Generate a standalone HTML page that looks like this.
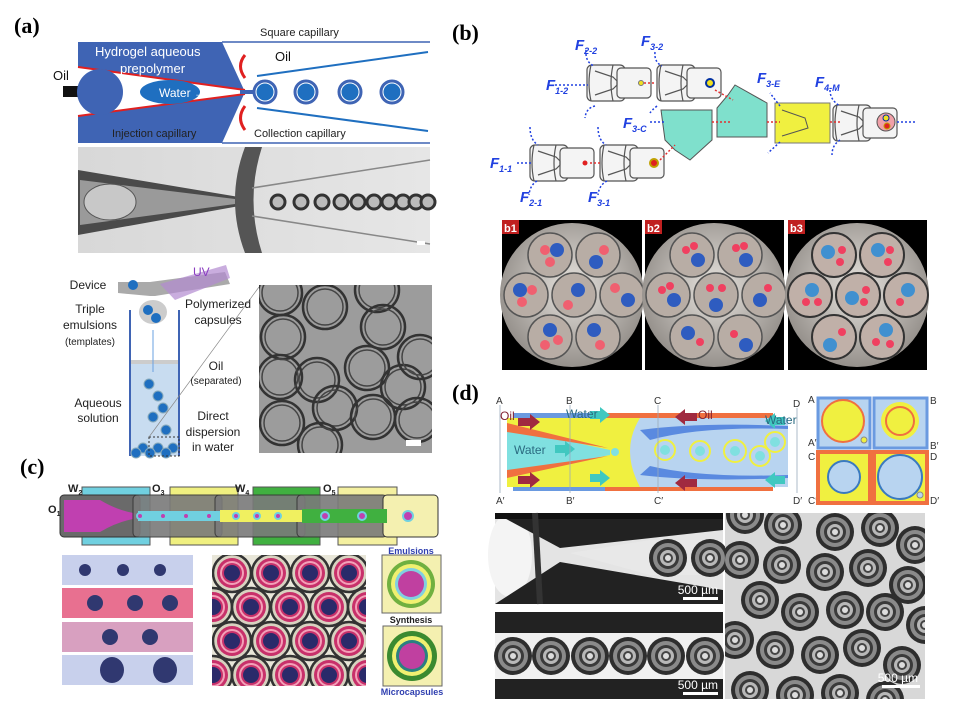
<!DOCTYPE html>
<html><head><meta charset="utf-8"><style>
body{margin:0;background:#fff}
svg{display:block}
text{font-family:"Liberation Sans",sans-serif}
.lab{font-family:"Liberation Serif",serif;font-weight:bold;font-size:22px}
</style></head><body>
<svg width="955" height="713" viewBox="0 0 955 713" xmlns="http://www.w3.org/2000/svg">
<defs>
<radialGradient id="bg1" cx="50%" cy="45%" r="60%"><stop offset="0" stop-color="#e8e4df"/><stop offset="1" stop-color="#8a8580"/></radialGradient>
<linearGradient id="ms" x1="0" x2="1"><stop offset="0" stop-color="#d8d8d8"/><stop offset="1" stop-color="#e6e6e6"/></linearGradient>
<g id="unit" fill="none" stroke="#555" stroke-width="1.2">
<rect x="0" y="2" width="38" height="36" rx="5" fill="#f4f4f4"/>
<rect x="30" y="5" width="34" height="30" rx="4" fill="#f4f4f4"/>
<path d="M8 8 L26 14 L30 18 L30 22 L26 26 L8 32"/>
<path d="M4 2 Q0 20 4 38"/><path d="M26 2 Q22 20 26 38"/>
</g>
<g id="cap1"><circle r="22" fill="none" stroke="#333" stroke-width="2.5"/><circle r="18" fill="none" stroke="#444" stroke-width="1.5"/></g>
<g id="cc"><circle r="19" fill="#d8d2c0" stroke="#333" stroke-width="2.5"/><circle r="15" fill="#c8306a"/><circle r="12" fill="#f3a0b8"/><circle r="10" fill="#c8306a"/><circle r="8" fill="#2a2a6a"/></g>
<g id="dc"><circle r="19" fill="#2e2e2e"/><circle r="15" fill="#8a8a8a"/><circle r="11" fill="#3a3a3a"/><circle r="8" fill="#b8b8b8"/><circle r="5" fill="#444"/><circle r="3" fill="#ddd"/></g>
<clipPath id="c1"><rect x="259" y="285" width="173" height="168"/></clipPath>
<clipPath id="c2"><rect x="212" y="555" width="154" height="131"/></clipPath>
<clipPath id="c3"><rect x="725" y="513" width="200" height="186"/></clipPath>
<clipPath id="cb1"><circle cx="572" cy="295" r="72"/></clipPath>
<clipPath id="cb2"><circle cx="714" cy="295" r="72"/></clipPath>
<clipPath id="cb3"><circle cx="857" cy="295" r="72"/></clipPath>
</defs>

<!-- (a) -->
<text class="lab" x="14" y="33">(a)</text>
<polygon points="78,42 222,42 245,92 222,143 78,143" fill="#3f64b4"/>
<line x1="222" y1="42" x2="430" y2="42" stroke="#3f64b4" stroke-width="1.5"/>
<line x1="222" y1="143" x2="430" y2="143" stroke="#3f64b4" stroke-width="1.5"/>
<polygon points="78,67 245,90 245,94 78,116" fill="#fff"/>
<line x1="78" y1="67" x2="245" y2="90" stroke="#e02020" stroke-width="2"/>
<line x1="78" y1="116" x2="245" y2="94" stroke="#e02020" stroke-width="2"/>
<rect x="63" y="86" width="16" height="11" fill="#111"/>
<circle cx="100" cy="92" r="23" fill="#3f64b4"/>
<ellipse cx="170" cy="92" rx="30" ry="12" fill="#1f6fc0"/>
<rect x="240" y="90" width="16" height="4" fill="#3f64b4"/>
<line x1="257" y1="76" x2="428" y2="52" stroke="#1f6fc0" stroke-width="2"/>
<line x1="257" y1="108" x2="428" y2="131" stroke="#1f6fc0" stroke-width="2"/>
<g fill="#1f6fc0" stroke="#3f64b4" stroke-width="3"><circle cx="265" cy="92" r="11"/><circle cx="306" cy="92" r="11"/><circle cx="350" cy="92" r="11"/><circle cx="392" cy="92" r="11"/></g>
<g fill="none" stroke="#fff" stroke-width="1"><circle cx="265" cy="92" r="9"/><circle cx="306" cy="92" r="9"/><circle cx="350" cy="92" r="9"/><circle cx="392" cy="92" r="9"/></g>
<path d="M245 55 Q236 66 245 78" fill="none" stroke="#e02020" stroke-width="3"/>
<path d="M245 130 Q236 118 245 106" fill="none" stroke="#e02020" stroke-width="3"/>
<text x="95" y="56" fill="#fff" font-size="13">Hydrogel  aqueous</text>
<text x="120" y="73" fill="#fff" font-size="13">prepolymer</text>
<text x="159" y="97" fill="#fff" font-size="12">Water →</text>
<text x="112" y="137" fill="#222" font-size="11">Injection capillary</text>
<text x="260" y="36" fill="#222" font-size="11">Square capillary</text>
<text x="275" y="61" fill="#111" font-size="13">Oil</text>
<text x="254" y="137" fill="#222" font-size="11">Collection capillary</text>
<text x="53" y="80" fill="#111" font-size="13">Oil</text>
<!-- microscope a -->
<rect x="78" y="147" width="352" height="106" fill="url(#ms)"/>
<path d="M78 170 L245 198 L245 205 L78 235 Z" fill="#4a4a4a"/>
<path d="M80 180 L235 199 L235 204 L80 225 Z" fill="#9a9a9a"/>
<ellipse cx="110" cy="202" rx="26" ry="18" fill="#c8c8c8" stroke="#555"/>
<path d="M245 147 Q225 200 245 253 L262 253 Q245 200 262 147 Z" fill="#555"/>
<path d="M252 188 L430 160 M252 216 L430 244" stroke="#888" stroke-width="1.5"/>
<g fill="#bbb" stroke="#333" stroke-width="3"><circle cx="278" cy="202" r="7"/><circle cx="301" cy="202" r="7"/><circle cx="322" cy="202" r="7"/><circle cx="341" cy="202" r="7"/><circle cx="358" cy="202" r="7"/><circle cx="374" cy="202" r="7"/><circle cx="389" cy="202" r="7"/><circle cx="403" cy="202" r="7"/><circle cx="416" cy="202" r="7"/><circle cx="428" cy="202" r="7"/></g>
<rect x="417" y="241" width="8" height="4" fill="#fff"/>
<!-- a bottom -->
<polygon points="118,282 150,282 225,272 230,284 155,296 150,296 118,293" fill="#aaa"/>
<polygon points="160,284 226,265 230,278 175,300" fill="#b28ad0" opacity="0.7"/>
<text x="193" y="276" fill="#8a3cc0" font-size="12">UV</text>
<circle cx="133" cy="285" r="5" fill="#1f6fc0"/>
<ellipse cx="153" cy="312" rx="14" ry="12" fill="#ccc"/>
<circle cx="148" cy="310" r="5" fill="#1f6fc0"/><circle cx="156" cy="318" r="5" fill="#1f6fc0"/>
<rect x="130" y="361" width="49" height="95" fill="#c8dcf0"/>
<rect x="130" y="360" width="49" height="4" fill="#ccc"/>
<line x1="130" y1="310" x2="130" y2="456" stroke="#3f64b4" stroke-width="2"/>
<line x1="179" y1="310" x2="179" y2="456" stroke="#3f64b4" stroke-width="2"/>
<line x1="153" y1="330" x2="153" y2="372" stroke="#6aa0e0" stroke-width="1"/>
<g fill="#1f6fc0" stroke="#8ab" stroke-width="1"><circle cx="149" cy="384" r="5"/><circle cx="158" cy="396" r="5"/><circle cx="163" cy="408" r="5"/><circle cx="153" cy="417" r="5"/><circle cx="166" cy="430" r="5"/><circle cx="143" cy="448" r="5"/><circle cx="158" cy="448" r="5"/><circle cx="173" cy="448" r="5"/><circle cx="136" cy="453" r="5"/><circle cx="150" cy="453" r="5"/><circle cx="166" cy="453" r="5"/></g>
<rect x="149" y="437" width="30" height="19" fill="none" stroke="#333" stroke-dasharray="2,2"/>
<line x1="149" y1="437" x2="259" y2="287" stroke="#888" stroke-width="0.7"/>
<g font-size="12" fill="#222" text-anchor="middle">
<text x="88" y="289">Device</text><text x="90" y="313">Triple</text><text x="90" y="329">emulsions</text><text x="90" y="345" font-size="10">(templates)</text>
<text x="218" y="308">Polymerized</text><text x="218" y="324">capsules</text>
<text x="216" y="370">Oil</text><text x="216" y="384" font-size="10">(separated)</text>
<text x="98" y="407">Aqueous</text><text x="98" y="422">solution</text>
<text x="213" y="420">Direct</text><text x="213" y="436">dispersion</text><text x="213" y="451">in water</text>
</g>
<rect x="259" y="285" width="173" height="168" fill="#9c9c9c"/>
<g clip-path="url(#c1)">
<use href="#cap1" x="280" y="293"/><use href="#cap1" x="325" y="307"/><use href="#cap1" x="377" y="290"/><use href="#cap1" x="383" y="327"/><use href="#cap1" x="283" y="337"/><use href="#cap1" x="367" y="368"/><use href="#cap1" x="317" y="380"/><use href="#cap1" x="280" y="377"/><use href="#cap1" x="403" y="387"/><use href="#cap1" x="335" y="408"/><use href="#cap1" x="373" y="417"/><use href="#cap1" x="282" y="423"/><use href="#cap1" x="420" y="357"/><use href="#cap1" x="417" y="420"/><use href="#cap1" x="320" y="445"/>
</g>
<rect x="406" y="440" width="15" height="6" fill="#fff"/>

<!-- (b) -->
<text class="lab" x="452" y="40">(b)</text>
<use href="#unit" x="587" y="63"/><use href="#unit" x="657" y="63"/>
<use href="#unit" x="530" y="143"/><use href="#unit" x="600" y="143"/>
<use href="#unit" x="833" y="103"/>
<polygon points="661,110 712,110 712,140 690,160 675,150 665,140" fill="#7fe0cc" stroke="#555"/>
<polygon points="717,108 728,95 735,85 767,103 767,137 717,137" fill="#7fe0cc" stroke="#555"/>
<rect x="775" y="103" width="55" height="40" fill="#f0f040" stroke="#777"/>
<path d="M782 110 L805 118 L808 128 L782 136" fill="none" stroke="#555"/>
<circle cx="886" cy="122" r="9" fill="#f0a0a8" stroke="#555"/>
<circle cx="886" cy="118" r="3" fill="#f0e020" stroke="#0030a0"/><circle cx="887" cy="126" r="3" fill="#e02020" stroke="#c0a000"/>
<circle cx="641" cy="83" r="2.5" fill="#f0e020" stroke="#777"/>
<circle cx="710" cy="83" r="4" fill="#f0e020" stroke="#0030a0" stroke-width="2"/>
<circle cx="585" cy="163" r="2.5" fill="#e02020"/>
<circle cx="654" cy="163" r="4" fill="#e02020" stroke="#c0a000" stroke-width="2"/>
<g stroke="#e03030" stroke-width="1.5" stroke-dasharray="2,2" fill="none">
<path d="M644 83 L656 83"/><path d="M715 90 L733 100"/><path d="M590 163 L600 163"/><path d="M660 160 L675 145"/><path d="M712 122 L730 122"/><path d="M767 122 L780 122"/><path d="M830 122 L842 122"/>
</g>
<g stroke="#2040e0" stroke-width="1.5" stroke-dasharray="2,2" fill="none">
<path d="M555 85 L588 85"/><path d="M517 163 L531 163"/><path d="M650 122 L665 122"/><path d="M897 122 L915 122"/>
<path d="M586 50 Q585 62 594 66"/><path d="M595 106 Q586 108 585 118"/><path d="M655 52 Q654 62 662 66"/><path d="M657 106 Q652 110 650 113"/>
<path d="M530 127 Q530 140 538 145"/><path d="M537 181 Q530 185 529 195"/><path d="M598 127 Q598 140 606 145"/><path d="M607 181 Q599 185 598 195"/>
<path d="M780 106 L770 93"/><path d="M780 142 L768 153"/><path d="M830 90 Q830 100 840 106"/><path d="M840 140 Q832 145 832 155"/>
</g>
<g fill="#2040e0" font-style="italic" font-weight="bold" font-size="15">
<text x="575" y="50">F<tspan font-size="9" dy="4">2-2</tspan></text>
<text x="641" y="46">F<tspan font-size="9" dy="4">3-2</tspan></text>
<text x="546" y="90">F<tspan font-size="9" dy="4">1-2</tspan></text>
<text x="623" y="128">F<tspan font-size="9" dy="4">3-C</tspan></text>
<text x="490" y="168">F<tspan font-size="9" dy="4">1-1</tspan></text>
<text x="520" y="202">F<tspan font-size="9" dy="4">2-1</tspan></text>
<text x="588" y="202">F<tspan font-size="9" dy="4">3-1</tspan></text>
<text x="757" y="83">F<tspan font-size="9" dy="4">3-E</tspan></text>
<text x="815" y="87">F<tspan font-size="9" dy="4">4-M</tspan></text>
</g>
<!-- b photos -->
<rect x="502" y="220" width="140" height="150" fill="#000"/>
<rect x="645" y="220" width="139" height="150" fill="#000"/>
<rect x="788" y="220" width="139" height="150" fill="#000"/>
<g clip-path="url(#cb1)"><rect x="500" y="220" width="145" height="150" fill="url(#bg1)"/>
<g fill="#b8ada5" stroke="#555" stroke-width="1.5"><circle cx="550" cy="255" r="22"/><circle cx="598" cy="255" r="22"/><circle cx="526" cy="295" r="22"/><circle cx="574" cy="295" r="22"/><circle cx="622" cy="295" r="22"/><circle cx="550" cy="337" r="22"/><circle cx="598" cy="337" r="22"/></g>
<g fill="#f06070"><circle cx="545" cy="250" r="5"/><circle cx="550" cy="262" r="5"/><circle cx="604" cy="250" r="5"/><circle cx="522" cy="302" r="5"/><circle cx="532" cy="290" r="5"/><circle cx="568" cy="305" r="5"/><circle cx="615" cy="288" r="5"/><circle cx="545" cy="345" r="5"/><circle cx="558" cy="340" r="5"/><circle cx="600" cy="345" r="5"/></g>
<g fill="#2e5cc0"><circle cx="557" cy="250" r="7"/><circle cx="596" cy="262" r="7"/><circle cx="520" cy="290" r="7"/><circle cx="578" cy="290" r="7"/><circle cx="628" cy="300" r="7"/><circle cx="550" cy="330" r="7"/><circle cx="594" cy="330" r="7"/></g></g>
<g clip-path="url(#cb2)"><rect x="642" y="220" width="145" height="150" fill="url(#bg1)"/>
<g fill="#b8ada5" stroke="#555" stroke-width="1.5"><circle cx="692" cy="255" r="22"/><circle cx="740" cy="255" r="22"/><circle cx="668" cy="295" r="22"/><circle cx="716" cy="295" r="22"/><circle cx="764" cy="295" r="22"/><circle cx="692" cy="337" r="22"/><circle cx="740" cy="337" r="22"/></g>
<g fill="#2e5cc0"><circle cx="698" cy="260" r="7"/><circle cx="746" cy="260" r="7"/><circle cx="674" cy="300" r="7"/><circle cx="716" cy="305" r="7"/><circle cx="760" cy="300" r="7"/><circle cx="688" cy="333" r="7"/><circle cx="746" cy="345" r="7"/></g>
<g fill="#f04060"><circle cx="686" cy="250" r="4"/><circle cx="694" cy="246" r="4"/><circle cx="736" cy="248" r="4"/><circle cx="744" cy="246" r="4"/><circle cx="662" cy="290" r="4"/><circle cx="670" cy="286" r="4"/><circle cx="710" cy="288" r="4"/><circle cx="722" cy="288" r="4"/><circle cx="768" cy="288" r="4"/><circle cx="700" cy="342" r="4"/><circle cx="734" cy="334" r="4"/></g></g>
<g clip-path="url(#cb3)"><rect x="785" y="220" width="145" height="150" fill="url(#bg1)"/>
<g fill="#c0b0a8" stroke="#333" stroke-width="2"><circle cx="834" cy="255" r="22"/><circle cx="882" cy="255" r="22"/><circle cx="810" cy="295" r="22"/><circle cx="858" cy="295" r="22"/><circle cx="906" cy="295" r="22"/><circle cx="834" cy="337" r="22"/><circle cx="882" cy="337" r="22"/></g>
<g fill="#4090d0"><circle cx="828" cy="252" r="7"/><circle cx="878" cy="250" r="7"/><circle cx="812" cy="290" r="7"/><circle cx="852" cy="298" r="7"/><circle cx="908" cy="290" r="7"/><circle cx="830" cy="345" r="7"/><circle cx="886" cy="330" r="7"/></g>
<g fill="#f04060"><circle cx="842" cy="250" r="4"/><circle cx="840" cy="262" r="4"/><circle cx="890" cy="250" r="4"/><circle cx="888" cy="262" r="4"/><circle cx="806" cy="302" r="4"/><circle cx="818" cy="302" r="4"/><circle cx="866" cy="290" r="4"/><circle cx="864" cy="302" r="4"/><circle cx="900" cy="302" r="4"/><circle cx="842" cy="332" r="4"/><circle cx="876" cy="342" r="4"/><circle cx="890" cy="344" r="4"/></g></g>
<rect x="502" y="220" width="17" height="14" fill="#c02020"/><text x="504" y="232" fill="#fff" font-size="11" font-weight="bold">b1</text>
<rect x="645" y="220" width="17" height="14" fill="#c02020"/><text x="647" y="232" fill="#fff" font-size="11" font-weight="bold">b2</text>
<rect x="788" y="220" width="17" height="14" fill="#c02020"/><text x="790" y="232" fill="#fff" font-size="11" font-weight="bold">b3</text>

<!-- (c) -->
<text class="lab" x="20" y="474">(c)</text>
<rect x="82" y="487" width="68" height="58" fill="#70d0e0" stroke="#555"/>
<rect x="170" y="487" width="68" height="58" fill="#f0f080" stroke="#555"/>
<rect x="253" y="487" width="67" height="58" fill="#40b040" stroke="#555"/>
<rect x="338" y="487" width="59" height="58" fill="#f4f0a0" stroke="#555"/>
<rect x="60" y="495" width="80" height="42" rx="4" fill="#6a6a6a" stroke="#333"/>
<path d="M64 500 L100 500 Q120 512 140 514 L140 518 Q120 520 100 532 L64 532 Z" fill="#c040b0"/>
<rect x="133" y="495" width="89" height="42" rx="4" fill="#7a7a7a" stroke="#333" opacity="0.9"/>
<rect x="215" y="495" width="90" height="42" rx="4" fill="#7a7a7a" stroke="#333" opacity="0.9"/>
<rect x="297" y="495" width="90" height="42" rx="4" fill="#7a7a7a" stroke="#333" opacity="0.9"/>
<rect x="383" y="495" width="55" height="42" rx="4" fill="#f4f0b0" stroke="#333"/>
<rect x="138" y="511" width="85" height="10" fill="#70d0e0"/>
<rect x="220" y="510" width="85" height="12" fill="#f0f060"/>
<rect x="302" y="509" width="85" height="14" fill="#40b040"/>
<g fill="#c040b0" stroke="#70d0e0" stroke-width="2"><circle cx="140" cy="516" r="3"/><circle cx="163" cy="516" r="3"/><circle cx="186" cy="516" r="3"/><circle cx="209" cy="516" r="3"/><circle cx="236" cy="516" r="3"/><circle cx="257" cy="516" r="3"/><circle cx="278" cy="516" r="3"/><circle cx="325" cy="516" r="4"/><circle cx="362" cy="516" r="4"/><circle cx="408" cy="516" r="5"/></g>
<g font-size="11" font-weight="bold" fill="#222"><text x="68" y="492">W<tspan font-size="7" dy="3">2</tspan></text><text x="152" y="492">O<tspan font-size="7" dy="3">3</tspan></text><text x="235" y="492">W<tspan font-size="7" dy="3">4</tspan></text><text x="323" y="492">O<tspan font-size="7" dy="3">5</tspan></text><text x="48" y="513">O<tspan font-size="7" dy="3">1</tspan></text></g>
<g fill="#c8d0ec"><rect x="62" y="555" width="131" height="30"/><rect x="62" y="588" width="131" height="30" fill="#e87090"/><rect x="62" y="622" width="131" height="30" fill="#d8a0c0"/><rect x="62" y="655" width="131" height="30"/></g>
<g fill="#303870"><circle cx="85" cy="570" r="6"/><circle cx="123" cy="570" r="6"/><circle cx="160" cy="570" r="6"/><circle cx="95" cy="603" r="8"/><circle cx="135" cy="603" r="8"/><circle cx="170" cy="603" r="8"/><circle cx="110" cy="637" r="8"/><circle cx="150" cy="637" r="8"/><ellipse cx="112" cy="670" rx="12" ry="13"/><ellipse cx="165" cy="670" rx="12" ry="13"/></g>
<rect x="212" y="555" width="154" height="131" fill="#e8e6d8"/>
<g clip-path="url(#c2)">
<use href="#cc" x="232" y="573"/><use href="#cc" x="271" y="573"/><use href="#cc" x="310" y="573"/><use href="#cc" x="349" y="573"/>
<use href="#cc" x="213" y="607"/><use href="#cc" x="251" y="607"/><use href="#cc" x="290" y="607"/><use href="#cc" x="329" y="607"/><use href="#cc" x="367" y="607"/>
<use href="#cc" x="232" y="641"/><use href="#cc" x="271" y="641"/><use href="#cc" x="310" y="641"/><use href="#cc" x="349" y="641"/>
<use href="#cc" x="213" y="675"/><use href="#cc" x="251" y="675"/><use href="#cc" x="290" y="675"/><use href="#cc" x="329" y="675"/><use href="#cc" x="367" y="675"/>
</g>
<text x="411" y="554" fill="#3040b0" font-size="9" font-weight="bold" text-anchor="middle">Emulsions</text>
<rect x="382" y="555" width="59" height="58" fill="#f4f0b0" stroke="#666"/>
<circle cx="411" cy="584" r="24" fill="#70b040"/><circle cx="411" cy="584" r="20" fill="#f0f070"/><circle cx="411" cy="584" r="16" fill="#80d0e0"/><circle cx="411" cy="584" r="13" fill="#c040a0"/>
<text x="411" y="623" fill="#222" font-size="9" font-weight="bold" text-anchor="middle">Synthesis</text>
<rect x="383" y="626" width="59" height="60" fill="#f4f0b0" stroke="#666"/>
<circle cx="412" cy="656" r="25" fill="#3a8a30"/><circle cx="412" cy="656" r="20" fill="#f0f070"/><circle cx="412" cy="656" r="16" fill="#2a8080"/><circle cx="412" cy="656" r="13" fill="#c040a0"/>
<text x="412" y="695" fill="#3040b0" font-size="9" font-weight="bold" text-anchor="middle">Microcapsules</text>

<!-- (d) -->
<text class="lab" x="452" y="400">(d)</text>
<rect x="513" y="413" width="92" height="78" fill="#6a9ae0"/>
<rect x="605" y="413" width="168" height="78" fill="#f07040"/>
<rect x="507" y="418" width="281" height="69" fill="#b8d4f0"/>
<path d="M507 418 L640 418 Q620 450 640 487 L507 487 Z" fill="#f0f040"/>
<path d="M507 428 L610 450 L610 455 L507 475 Z" fill="#80e0e0"/>
<path d="M507 423 L608 448 L507 432 Z" fill="#f07040"/>
<path d="M507 478 L608 456 L507 470 Z" fill="#f07040"/>
<path d="M640 430 Q700 422 788 426 L788 429 Q700 426 650 440 Z" fill="#5a8ae0"/>
<path d="M640 475 Q700 482 788 478 L788 475 Q700 478 650 466 Z" fill="#5a8ae0"/>
<g fill="none" stroke="#f0f040" stroke-width="2"><circle cx="665" cy="450" r="10"/><circle cx="700" cy="451" r="10"/><circle cx="735" cy="451" r="11"/><circle cx="760" cy="456" r="10"/><circle cx="775" cy="442" r="10"/></g>
<g fill="#80e0e0"><circle cx="665" cy="450" r="5"/><circle cx="700" cy="451" r="5"/><circle cx="735" cy="451" r="5"/><circle cx="760" cy="456" r="5"/><circle cx="775" cy="442" r="5"/><circle cx="615" cy="452" r="4"/></g>
<g fill="#a02a40"><polygon points="518,418 530,418 530,414 540,422 530,430 530,426 518,426"/><polygon points="518,476 530,476 530,472 540,480 530,488 530,484 518,484"/><polygon points="697,413 685,413 685,409 675,417 685,425 685,421 697,421"/><polygon points="697,479 685,479 685,475 675,483 685,491 685,487 697,487"/></g>
<g fill="#40c8c0"><polygon points="590,411 600,411 600,407 610,415 600,423 600,419 590,419"/><polygon points="590,474 600,474 600,470 610,478 600,486 600,482 590,482"/><polygon points="555,445 565,445 565,441 575,449 565,457 565,453 555,453"/><polygon points="785,417 775,417 775,413 765,421 775,429 775,425 785,425"/><polygon points="785,476 775,476 775,472 765,480 775,488 775,484 785,484"/></g>
<g font-family="Liberation Serif,serif" font-size="12" fill="#2a6a80"><text x="566" y="418">Water</text><text x="514" y="454">Water</text><text x="765" y="424" >Water</text></g>
<g font-family="Liberation Serif,serif" font-size="12" fill="#802030"><text x="500" y="420">Oil</text><text x="698" y="419">Oil</text></g>
<g stroke="#9ab" stroke-width="0.8"><line x1="500" y1="405" x2="500" y2="493"/><line x1="570" y1="405" x2="570" y2="493"/><line x1="658" y1="405" x2="658" y2="493"/><line x1="797" y1="408" x2="797" y2="493"/></g>
<g font-size="10" fill="#333"><text x="496" y="404">A</text><text x="496" y="504">A′</text><text x="566" y="404">B</text><text x="566" y="504">B′</text><text x="654" y="404">C</text><text x="654" y="504">C′</text><text x="793" y="407">D</text><text x="793" y="504">D′</text>
<text x="808" y="403">A</text><text x="808" y="446">A′</text><text x="930" y="404">B</text><text x="930" y="449">B′</text><text x="808" y="460">C</text><text x="808" y="504">C′</text><text x="930" y="460">D</text><text x="930" y="504">D′</text></g>
<rect x="818" y="398" width="52" height="50" fill="#b8d4f0" stroke="#6a9ae0" stroke-width="3"/>
<circle cx="843" cy="421" r="21" fill="#f0f040" stroke="#f07040" stroke-width="2"/><circle cx="864" cy="440" r="3" fill="#f0f040" stroke="#888"/>
<rect x="874" y="398" width="53" height="50" fill="#b8d4f0" stroke="#6a9ae0" stroke-width="3"/>
<circle cx="900" cy="421" r="19" fill="#f0f040"/><circle cx="900" cy="421" r="14" fill="none" stroke="#f07040" stroke-width="2"/>
<rect x="818" y="452" width="52" height="51" fill="#f0f040" stroke="#f07040" stroke-width="4"/>
<circle cx="844" cy="477" r="16" fill="#b8d4f0" stroke="#3a7ac0" stroke-width="2"/>
<rect x="874" y="452" width="53" height="51" fill="#f0f040" stroke="#f07040" stroke-width="4"/>
<circle cx="900" cy="477" r="22" fill="#b8d4f0" stroke="#3a7ac0" stroke-width="2"/><circle cx="920" cy="495" r="3" fill="#b8d4f0" stroke="#888"/>
<!-- d photos -->
<rect x="495" y="513" width="228" height="91" fill="#e4e4e4"/>
<ellipse cx="510" cy="555" rx="22" ry="42" fill="#f4f4f4"/>
<path d="M495 513 L723 513 L723 530 L560 548 Z" fill="#222"/>
<path d="M495 604 L723 604 L723 590 L560 562 Z" fill="#222"/>
<rect x="495" y="513" width="228" height="6" fill="#111"/>
<path d="M535 513 L540 604" stroke="#333" stroke-width="6"/>
<path d="M570 553 L650 540 L723 540 L723 575 L650 575 Z" fill="#e8e8e8"/>
<g><use href="#dc" x="668" y="558" transform="scale(1)"/><use href="#dc" x="710" y="558"/></g>
<rect x="495" y="608" width="228" height="91" fill="#222"/>
<rect x="495" y="633" width="228" height="46" fill="#f0f0f0"/>
<g><use href="#dc" x="513" y="656"/><use href="#dc" x="551" y="656"/><use href="#dc" x="590" y="656"/><use href="#dc" x="628" y="656"/><use href="#dc" x="666" y="656"/><use href="#dc" x="705" y="656"/></g>
<rect x="495" y="608" width="228" height="4" fill="#fff"/>
<text x="718" y="594" fill="#fff" font-size="12" text-anchor="end">500 µm</text><rect x="683" y="597" width="35" height="3" fill="#fff"/>
<text x="718" y="689" fill="#fff" font-size="12" text-anchor="end">500 µm</text><rect x="683" y="692" width="35" height="3" fill="#fff"/>
<rect x="725" y="513" width="200" height="186" fill="#d8d8d8"/>
<g clip-path="url(#c3)">
<use href="#dc" x="745" y="515"/><use href="#dc" x="783" y="525"/><use href="#dc" x="835" y="532"/><use href="#dc" x="880" y="528"/><use href="#dc" x="915" y="545"/>
<use href="#dc" x="740" y="560"/><use href="#dc" x="782" y="565"/><use href="#dc" x="825" y="572"/><use href="#dc" x="868" y="568"/><use href="#dc" x="908" y="585"/>
<use href="#dc" x="760" y="600"/><use href="#dc" x="800" y="612"/><use href="#dc" x="845" y="610"/><use href="#dc" x="885" y="612"/><use href="#dc" x="925" y="625"/>
<use href="#dc" x="735" y="640"/><use href="#dc" x="775" y="650"/><use href="#dc" x="820" y="655"/><use href="#dc" x="862" y="648"/><use href="#dc" x="902" y="665"/>
<use href="#dc" x="750" y="690"/><use href="#dc" x="795" y="695"/><use href="#dc" x="840" y="693"/><use href="#dc" x="885" y="700"/>
</g>
<text x="918" y="682" fill="#fff" font-size="12" text-anchor="end">500 µm</text><rect x="882" y="685" width="38" height="3" fill="#fff"/>
</svg>
</body></html>
